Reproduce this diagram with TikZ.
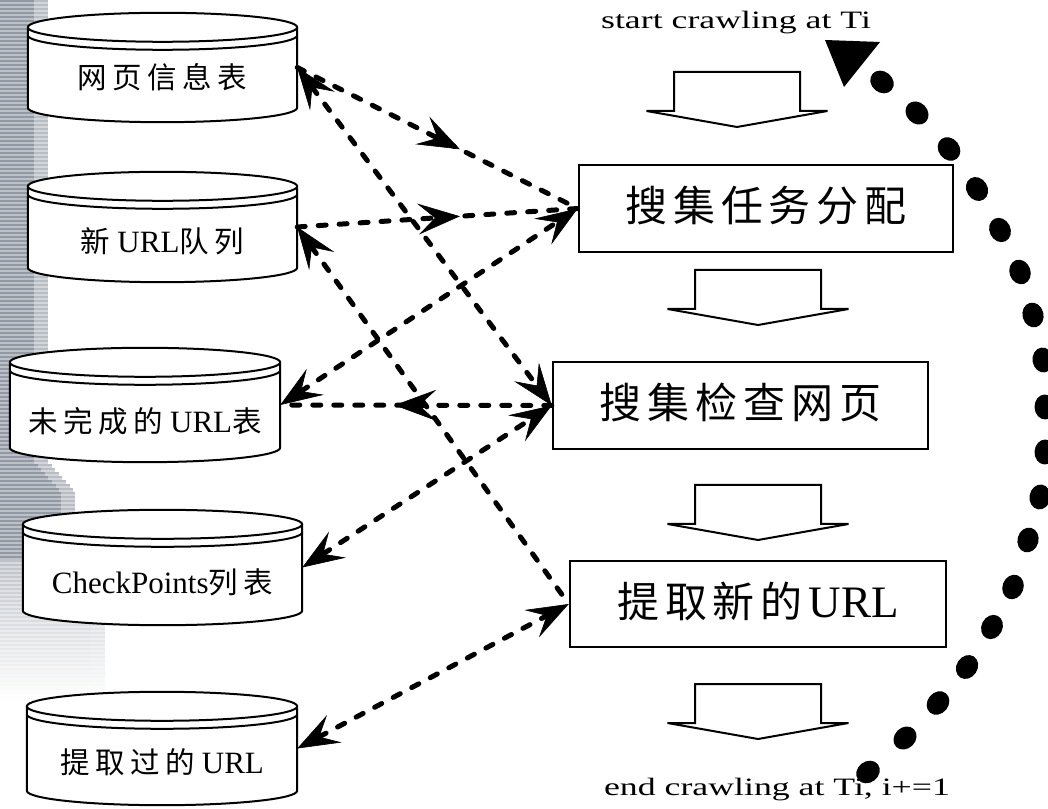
\documentclass[tikz,border=0pt]{standalone}
\usepackage{fontspec}
\setmainfont{Liberation Serif}
\newfontfamily\cjkdb[LetterSpace=19]{Noto Sans CJK SC}
\newfontfamily\cjkbox[LetterSpace=14]{Noto Sans CJK SC}
\usetikzlibrary{arrows.meta,decorations.markings,backgrounds,calc}

\definecolor{stripedark}{RGB}{146,153,164}
\definecolor{stripelight}{RGB}{188,192,199}

% depth of the elliptic lids of the database cylinders
\newcommand\dbry{14.5pt}
% database cylinder drawn behind the named node #1
\newcommand\dbshape[1]{%
  \filldraw[dbline, fill=white] let \p1=(#1.north west), \p2=(#1.south east), \n1={(\x2-\x1)/2} in
    (\x1,\y1-\dbry) -- (\x1,\y2+\dbry)
    arc[start angle=180, end angle=360, x radius=\n1, y radius=\dbry]
    -- (\x2,\y1-\dbry)
    arc[start angle=0, end angle=180, x radius=\n1, y radius=\dbry] -- cycle;
  \draw[dbline] let \p1=(#1.north west), \p2=(#1.south east), \n1={(\x2-\x1)/2} in
    (\x1,\y1-\dbry) arc[start angle=180, end angle=360, x radius=\n1, y radius=\dbry]
    (\x1,\y1-\dbry-8pt) arc[start angle=180, end angle=360, x radius=\n1, y radius=\dbry];
}

\begin{document}
\begin{tikzpicture}[x=1pt, y=1pt,
  >={Stealth[length=42pt 0, width=31pt 0, inset=17pt 0, line width=0.6pt]},
  dbline/.style={line width=2pt, line join=round},
  dbbox/.style={inner sep=0pt, text depth=0pt, font=\fontsize{31}{33}\selectfont},
  procbox/.style={draw, line width=2.5pt, inner sep=0pt, minimum height=87pt,
    text height=27pt, text depth=0pt, font=\fontsize{42}{44}\selectfont},
  labeltext/.style={inner sep=0pt, font=\fontsize{25}{27}\selectfont},
  conn/.style={line width=5pt, dash pattern=on 8pt off 13pt, line cap=round},
  midtip/.style={postaction={decorate},
    decoration={markings, mark=at position 0.58 with {\arrow{>}}}},
  downarrow/.pic={\draw[line width=2pt, line join=miter]
    (-63,0) -- (-63,-39) -- (-90.5,-39) -- (0,-55) -- (90.5,-39) -- (63,-39) -- (63,0) -- cycle;}
]
\useasboundingbox (0,0) rectangle (1048,808);

% data stores
\node[dbbox, minimum width=269pt, minimum height=109pt, text height=43pt] (c1) at (162.5,740.5)
  {{\cjkdb\fontsize{29.5}{31}\selectfont 网页信息表}};
\node[dbbox, minimum width=269pt, minimum height=110pt, text height=52pt] (c2) at (162.5,581)
  {{\cjkdb\fontsize{29.5}{31}\selectfont 新}\hspace{7pt}URL{\cjkdb\fontsize{29.5}{31}\selectfont 队列}};
\node[dbbox, minimum width=270pt, minimum height=114pt, text height=56pt] (c3) at (145,403)
  {{\cjkdb\fontsize{29.5}{31}\selectfont 未完成的}\hspace{7pt}URL{\cjkdb\fontsize{29.5}{31}\selectfont 表}};
\node[dbbox, minimum width=279pt, minimum height=115pt, text height=53pt] (c4) at (162.5,240.5)
  {CheckPoints{\cjkdb\fontsize{29.5}{31}\selectfont 列表}};
\node[dbbox, minimum width=270pt, minimum height=113pt, text height=49pt] (c5) at (162,59.5)
  {{\cjkdb\fontsize{29.5}{31}\selectfont 提取过的}\hspace{7pt}URL};

% processing steps
\node[procbox, minimum width=374pt] (b1) at (766,599.5) {{\cjkbox 搜集任务分配}};
\node[procbox, minimum width=375pt] (b2) at (740.5,402.5) {{\cjkbox 搜集检查网页}};
\node[procbox, minimum width=376pt, minimum height=86pt] (b3) at (758,204)
  {{\cjkbox 提取新的}\hspace{6pt}{\fontsize{45}{46}\selectfont URL}};

% start / end labels
\node[labeltext, anchor=base] (start) at (736,779) {\scalebox{1.43}[1]{start crawling at Ti}};
\node[labeltext, anchor=base] (finish) at (777,13) {\scalebox{1.43}[1]{end crawling at Ti, i+=1}};

% flow arrows between the steps
\pic at (737,736) {downarrow};
\pic at (758,538) {downarrow};
\pic at (758,323) {downarrow};
\pic at (758,124) {downarrow};

% data exchange
\draw[conn, midtip] (c1.east) -- (b1.west);
\draw[conn, midtip] (c2.east) -- (b1.west);
\draw[conn, <->] (c3.east) -- (b1.west);
\draw[conn, <->] (c1.east) -- (b2.west);
\draw[conn, midtip] (b2.west) -- (c3.east);
\draw[conn, <->] (c4.east) -- (b2.west);
\draw[conn, <-] (c2.east) -- (b3.west);
\draw[conn, <->] (c5.east) -- (b3.west);

% loop back to the next crawling period
\foreach \px/\py in {882/82, 917/113, 949/149, 977/189, 1000/230, 1020/272, 1033/315,
    1043/360, 1045/407, 1045/452, 1040/497, 1028/540, 1013/587, 992/627, 967/667,
    938/703, 905/738, 868/772} {
  \pgfmathsetmacro\ang{atan2(808-\py-381, \px-598)+90}
  \fill[rotate around={\ang:(\px,808-\py)}] (\px,808-\py) ellipse[x radius=12.5, y radius=10.5];
}
\fill (825,768) -- (880,766) -- (844,721) -- cycle;

\begin{scope}[on background layer]
  % striped side band
  \foreach \sy in {0,4,...,696} {
    \pgfmathsetmacro\sw{\sy<460 ? 48 : (\sy<490 ? 48+0.9*(\sy-460) : (\sy<560 ? 75 : 105))}
    \pgfmathsetmacro\so{\sy<560 ? 1 : max(0,0.6*(1-(\sy-560)/140))}
    \fill[stripedark, opacity=\so] (0,808-\sy) rectangle (\sw,806-\sy);
    \fill[stripelight, opacity=\so] (0,806-\sy) rectangle (\sw,804-\sy);
    \fill[white, opacity=0.35*\so] (\sw-14,808-\sy) rectangle (\sw,804-\sy);
  }
  \dbshape{c1}
  \dbshape{c2}
  \dbshape{c3}
  \dbshape{c4}
  \dbshape{c5}
\end{scope}
\end{tikzpicture}
\end{document}
